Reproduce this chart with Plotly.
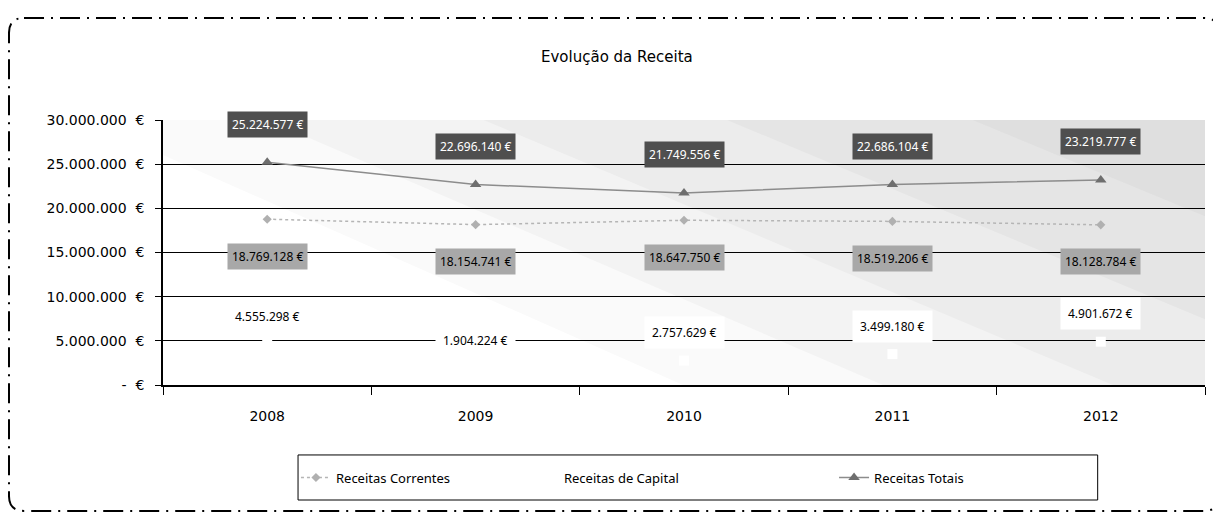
import plotly.graph_objects as go

years = ["2008", "2009", "2010", "2011", "2012"]
correntes = [18769128, 18154741, 18647750, 18519206, 18128784]
capital = [4555298, 1904224, 2757629, 3499180, 4901672]
totais = [25224577, 22696140, 21749556, 22686104, 23219777]
y_ticks = [0, 5000000, 10000000, 15000000, 20000000, 25000000, 30000000]
y_tick_labels = ["-\u00a0\u00a0€", "5.000.000\u00a0\u00a0€", "10.000.000\u00a0\u00a0€",
                 "15.000.000\u00a0\u00a0€", "20.000.000\u00a0\u00a0€",
                 "25.000.000\u00a0\u00a0€", "30.000.000\u00a0\u00a0€"]
title_text = "Evolução da Receita"
names = ["Receitas Correntes", "Receitas de Capital", "Receitas Totais"]

Y_MAX = 30000000


def eur(v):
    return f"{v:,}".replace(",", ".") + " €"


FONT = "Noto Sans"
AXFONT = "DejaVu Sans"
fig = go.Figure()

fig.add_trace(go.Scatter(
    x=years, y=correntes, name=names[0], mode="lines+markers", legend="legend",
    line=dict(color="#b5b5b5", width=1.5, dash="dot"),
    marker=dict(symbol="diamond", size=7, color="#b0b0b0"),
))
fig.add_trace(go.Scatter(
    x=years, y=capital, name=names[1], mode="markers", legend="legend2",
    marker=dict(symbol="square", size=10, color="white"),
))
fig.add_trace(go.Scatter(
    x=years, y=totais, name=names[2], mode="lines+markers", legend="legend3",
    line=dict(color="#8c8c8c", width=1.5),
    marker=dict(symbol="triangle-up", size=10, color="#6e6e6e"),
))

ann = []
for i, v in enumerate(totais):
    ann.append(dict(x=i, y=v, xref="x", yref="y", text=eur(v), showarrow=False,
                    yshift=38, bgcolor="#4f4f4f", borderpad=4,
                    font=dict(family=FONT, size=12, color="white")))
for i, v in enumerate(correntes):
    ann.append(dict(x=i, y=v, xref="x", yref="y", text=eur(v), showarrow=False,
                    yshift=-37, bgcolor="#a8a8a8", borderpad=4,
                    font=dict(family=FONT, size=12, color="black")))
for i, v in enumerate(capital):
    ann.append(dict(x=i, y=v, xref="x", yref="y", text=eur(v), showarrow=False,
                    yshift=28, bgcolor="white", borderpad=7,
                    font=dict(family=FONT, size=12, color="black")))
ann.append(dict(xref="paper", yref="paper", x=0.436, y=1.238, yanchor="middle",
                text=title_text, showarrow=False,
                font=dict(family=AXFONT, size=15, color="black")))

shapes = []
# background gradient (white bottom-left to grey top-right), clipped to plot area
PX_X = 5 / 1042.0
PX_Y = Y_MAX / 265.0
steps = [(1700, 700, "#dfdfdf"), (1450, 600, "#e5e5e5"), (1200, 500, "#ececec"),
         (950, 400, "#f3f3f3"), (720, 310, "#fafafa"), (520, 230, "#ffffff")]
for w, h, c in steps:
    x1 = -0.5 + w * PX_X
    y1 = h * PX_Y
    shapes.append(dict(type="path", xref="x", yref="y",
                       path=f"M -0.5,0 L {x1:.4f},0 L -0.5,{y1:.0f} Z",
                       fillcolor=c, line=dict(width=0), layer="below"))

# legend box
shapes.append(dict(type="rect", xref="paper", yref="paper",
                   x0=0.1296, x1=0.897, y0=-0.434, y1=-0.264,
                   line=dict(color="black", width=1), fillcolor="white"))

# outer dash-dot border with rounded corners (paper coords)
x0, x1, y0, y1 = -0.1478, 1.0134, -0.475, 1.385
rx, ry = 0.0144, 0.0566
border = (f"M {x0+rx},{y1} L {x1-rx},{y1} Q {x1},{y1} {x1},{y1-ry} "
          f"L {x1},{y0+ry} Q {x1},{y0} {x1-rx},{y0} L {x0+rx},{y0} "
          f"Q {x0},{y0} {x0},{y0+ry} L {x0},{y1-ry} Q {x0},{y1} {x0+rx},{y1} Z")
shapes.append(dict(type="path", xref="paper", yref="paper", path=border,
                   line=dict(color="black", width=2, dash="20px,7px,2px,7px"),
                   layer="above"))

leg_common = dict(orientation="h", yanchor="middle", y=-0.349, xanchor="left",
                  bgcolor="rgba(0,0,0,0)", borderwidth=0,
                  font=dict(family=FONT, size=13), itemwidth=30)

fig.update_layout(
    width=1213, height=506,
    margin=dict(l=155, r=16, t=112, b=129),
    paper_bgcolor="white", plot_bgcolor="#d7d7d7",
    font=dict(family=FONT, size=12, color="black"),
    showlegend=True,
    legend=dict(x=0.1276, **leg_common),
    legend2=dict(x=0.3464, **leg_common),
    legend3=dict(x=0.6440, **leg_common),
    annotations=ann, shapes=shapes,
)
fig.update_xaxes(type="category", showline=True, linecolor="black", linewidth=1.5,
                 ticks="outside", tickson="boundaries", ticklen=8, tickcolor="black",
                 showgrid=False, tickfont=dict(family=AXFONT, size=14),
                 ticklabelstandoff=17, range=[-0.5, 4.5])
fig.update_yaxes(range=[0, Y_MAX], tickvals=y_ticks, ticktext=y_tick_labels,
                 showline=True, linecolor="black", linewidth=1.5,
                 ticks="outside", ticklen=6, tickcolor="black",
                 showgrid=True, gridcolor="black", gridwidth=1, zeroline=False,
                 tickfont=dict(family=AXFONT, size=14), ticklabelstandoff=8)

fig.write_html("out.html")
